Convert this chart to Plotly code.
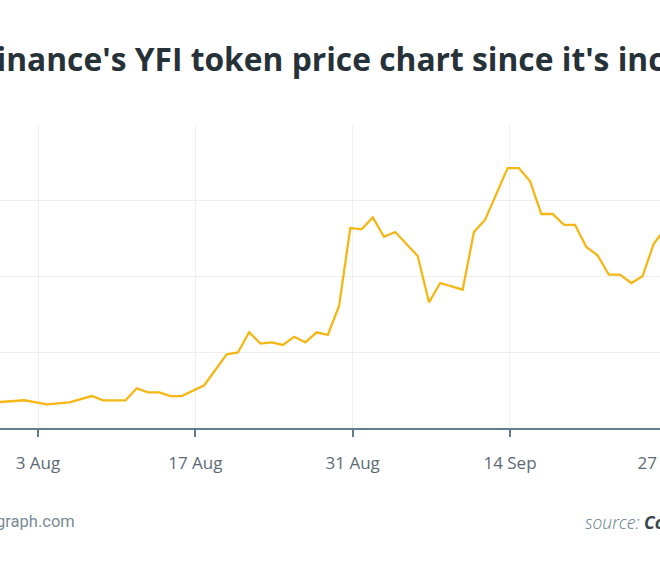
import pandas as pd
import plotly.graph_objects as go

# YFI price (USD); days with no visible vertex are left out
dates = [
    "2020-07-30", "2020-07-31", "2020-08-02", "2020-08-04", "2020-08-06", "2020-08-08",
    "2020-08-09", "2020-08-11", "2020-08-12", "2020-08-13", "2020-08-14", "2020-08-15",
    "2020-08-16", "2020-08-18", "2020-08-20", "2020-08-21", "2020-08-22", "2020-08-23",
    "2020-08-24", "2020-08-25", "2020-08-26", "2020-08-27", "2020-08-28", "2020-08-29",
    "2020-08-30", "2020-08-31", "2020-09-01", "2020-09-02", "2020-09-03", "2020-09-04",
    "2020-09-06", "2020-09-07", "2020-09-08", "2020-09-10", "2020-09-11", "2020-09-12",
    "2020-09-14", "2020-09-15", "2020-09-16", "2020-09-17", "2020-09-18", "2020-09-19",
    "2020-09-20", "2020-09-21", "2020-09-22", "2020-09-23", "2020-09-24", "2020-09-25",
    "2020-09-26", "2020-09-27", "2020-09-28", "2020-09-29",
]
prices = [
    3350, 3430, 3660, 3130, 3390, 4220,
    3660, 3660, 5240, 4710, 4710, 4220,
    4220, 5640, 9730, 9970, 12650, 11150,
    11310, 10960, 12050, 11310, 12630, 12300,
    16100, 26400, 26230, 27810, 25250, 25870,
    22700, 16590, 19140, 18260, 25870, 27500,
    34320, 34320, 32560, 28250, 28250, 26840,
    26800, 23890, 22800, 20240, 20240, 19140,
    20020, 24330, 26270, 27000,
]

tick_dates = ["2020-08-03", "2020-08-17", "2020-08-31", "2020-09-14", "2020-09-27 17:00"]
tick_labels = ["3 Aug", "17 Aug", "31 Aug", "14 Sep", "27 Sep"]

title = "Yearn.Finance's YFI token price chart since it's inception"

# samples sit a few hours before the day ticks in the original
times = pd.to_datetime(dates) - pd.Timedelta(hours=5)

W = 680  # a little wider than the window, the right edge is cropped like the source

fig = go.Figure()
fig.add_trace(go.Scatter(
    x=times,
    y=prices,
    mode="lines",
    line=dict(color="#F5B715", width=2.3),
    hoverinfo="x+y",
))

fig.update_layout(
    width=W,
    height=577,
    margin=dict(l=0, r=0, t=125, b=149),
    paper_bgcolor="white",
    plot_bgcolor="white",
    showlegend=False,
    font=dict(family="Open Sans", color="#546E7A"),
)

fig.update_xaxes(
    range=["2020-07-30 14:51", "2020-09-29 03:07"],
    tickvals=tick_dates,
    ticktext=tick_labels,
    tickfont=dict(size=17, color="#5B6B75"),
    ticks="outside",
    ticklen=7,
    tickcolor="#607D8B",
    tickwidth=1.5,
    ticklabelstandoff=12,
    ticklabeloverflow="allow",
    automargin=False,
    showline=True,
    linecolor="#607D8B",
    linewidth=1.5,
    showgrid=True,
    gridcolor="#EFEFEF",
    gridwidth=1,
    zeroline=False,
)
fig.update_yaxes(
    range=[0, 40000],
    dtick=10000,
    showticklabels=False,
    automargin=False,
    showgrid=True,
    gridcolor="#EFEFEF",
    gridwidth=1,
    zeroline=False,
)

fig.add_annotation(
    xref="paper", yref="paper", x=-125 / W, y=1.221,
    xanchor="left", yanchor="middle", showarrow=False,
    text=f"<b>{title}</b>",
    font=dict(family="Open Sans", size=31.75, color="#263238"),
)
fig.add_annotation(
    xref="paper", yref="paper", x=77 / W, y=-0.31,
    xanchor="right", yanchor="middle", showarrow=False,
    text="cointelegraph.com",
    font=dict(family="Roboto", size=16.5, color="#7A8A94"),
)
fig.add_annotation(
    xref="paper", yref="paper", x=583 / W, y=-0.31,
    xanchor="left", yanchor="middle", showarrow=False,
    text="<i>source: </i><b><i><span style='color:#37474F'>CoinGecko</span></i></b>",
    font=dict(family="Open Sans", size=17.5, weight=300, color="#607D8B"),
)

# drop the page's default body margin and the scrollbars so the figure sits at the window corner
fig.write_html(
    "out.html",
    config={"displayModeBar": False},
    post_script="document.body.style.margin = '0'; document.body.style.overflow = 'hidden';",
)
